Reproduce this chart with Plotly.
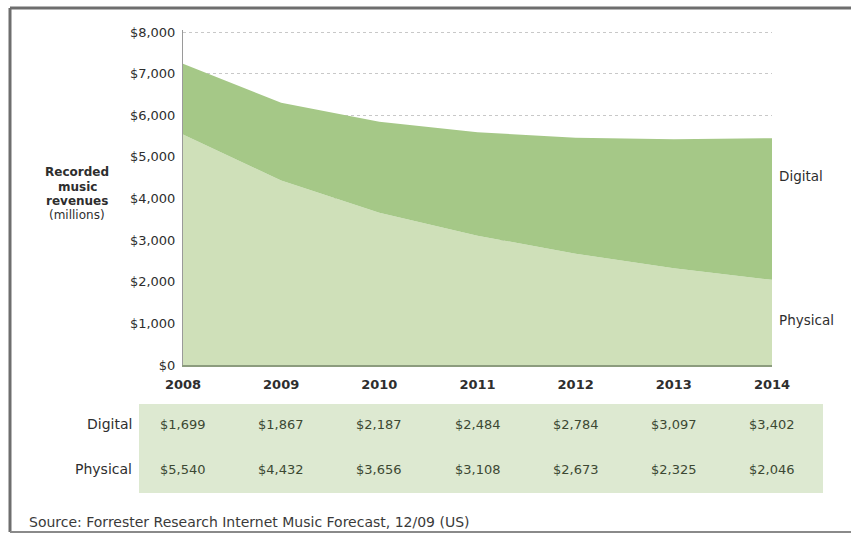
import plotly.graph_objects as go

# Forrester US recorded music revenue forecast, $ millions
years = [2008, 2009, 2010, 2011, 2012, 2013, 2014]
digital = [1699, 1867, 2187, 2484, 2784, 3097, 3402]
physical = [5540, 4432, 3656, 3108, 2673, 2325, 2046]
y_ticks = [0, 1000, 2000, 3000, 4000, 5000, 6000, 7000, 8000]
y_tick_labels = ["$0", "$1,000", "$2,000", "$3,000", "$4,000",
                 "$5,000", "$6,000", "$7,000", "$8,000"]
series_names = ["Digital", "Physical"]
axis_title_lines = ["<b>Recorded</b>", "<b>music</b>", "<b>revenues</b>", "(millions)"]
source_note = "Source: Forrester Research Internet Music Forecast, 12/09 (US)"

W, H = 851, 534
FONT = "DejaVu Sans"
TXT = "#2e2e2e"
PHYS_FILL = "#cfe0b9"
DIG_FILL = "#a5c887"
BAND = "#dde9d1"


def px(x):
    return x / W


def py(y):
    return 1 - y / H


def money(v):
    return "${:,}".format(v)


fig = go.Figure()

fig.add_trace(go.Scatter(
    x=years, y=physical, name=series_names[1], stackgroup="rev",
    mode="lines", line=dict(width=0, color=PHYS_FILL), fillcolor=PHYS_FILL,
    hoverinfo="skip",
))
fig.add_trace(go.Scatter(
    x=years, y=digital, name=series_names[0], stackgroup="rev",
    mode="lines", line=dict(width=0, color=DIG_FILL), fillcolor=DIG_FILL,
    hoverinfo="skip",
))

annotations = []

# series labels at the right edge of the stacked areas
annotations.append(dict(x=px(777), y=py(176), xref="paper", yref="paper",
                        text=series_names[0], showarrow=False,
                        xanchor="left", yanchor="middle",
                        font=dict(family=FONT, size=13.5, color=TXT)))
annotations.append(dict(x=px(777), y=py(320), xref="paper", yref="paper",
                        text=series_names[1], showarrow=False,
                        xanchor="left", yanchor="middle",
                        font=dict(family=FONT, size=13.5, color=TXT)))

# y-axis title, one line at a time for tight spacing
for i, line in enumerate(axis_title_lines):
    annotations.append(dict(
        x=px(77), y=py(172 + 14.5 * i), xref="paper", yref="paper",
        text=line, showarrow=False, xanchor="center", yanchor="middle",
        font=dict(family=FONT, size=12, color=TXT),
    ))

# data table beneath the chart
row_y = {series_names[0]: 424, series_names[1]: 469}
row_vals = {series_names[0]: digital, series_names[1]: physical}
for name in series_names:
    annotations.append(dict(x=px(134), y=py(row_y[name]), xref="paper", yref="paper",
                            text=name, showarrow=False,
                            xanchor="right", yanchor="middle",
                            font=dict(family=FONT, size=14, color=TXT)))
    for yr, v in zip(years, row_vals[name]):
        annotations.append(dict(x=yr, y=py(row_y[name]), xref="x", yref="paper",
                                text=money(v), showarrow=False,
                                xanchor="center", yanchor="middle",
                                font=dict(family=FONT, size=13, color="#3c4833")))

annotations.append(dict(x=px(27), y=py(522), xref="paper", yref="paper",
                        text=source_note, showarrow=False,
                        xanchor="left", yanchor="middle",
                        font=dict(family=FONT, size=14, color="#3a3a3a")))

shapes = [
    # table band
    dict(type="rect", xref="paper", yref="paper",
         x0=px(139), x1=px(823), y0=py(404), y1=py(493),
         fillcolor=BAND, line=dict(width=0), layer="below"),
    # outer frame (left, top, bottom)
    dict(type="line", xref="paper", yref="paper",
         x0=px(10), x1=px(10), y0=py(8), y1=py(532),
         line=dict(color="#6e6e6e", width=3)),
    dict(type="line", xref="paper", yref="paper",
         x0=px(10), x1=px(860), y0=py(8), y1=py(8),
         line=dict(color="#6e6e6e", width=3)),
    dict(type="line", xref="paper", yref="paper",
         x0=px(10), x1=px(860), y0=py(532), y1=py(532),
         line=dict(color="#8a8a8a", width=2)),
]

fig.update_layout(
    width=W, height=H,
    margin=dict(l=0, r=0, t=0, b=0, autoexpand=False),
    paper_bgcolor="white", plot_bgcolor="white",
    showlegend=False,
    annotations=annotations,
    shapes=shapes,
    xaxis=dict(
        domain=[px(183), px(772)], range=[2008, 2014],
        tickvals=years, ticktext=["<b>{}</b>".format(y) for y in years],
        tickfont=dict(family=FONT, size=13, color=TXT),
        showgrid=False, zeroline=False, automargin=False,
        showline=True, linecolor="#8c9c7e", linewidth=2,
        ticks="", ticklabelstandoff=6, fixedrange=True,
    ),
    yaxis=dict(
        domain=[py(365), py(29.5)], range=[0, 8060],
        tickvals=y_ticks, ticktext=y_tick_labels,
        tickfont=dict(family=FONT, size=13, color=TXT),
        showgrid=True, gridcolor="#c8c8c8", griddash="dot", gridwidth=1,
        zeroline=False, showline=True, linecolor="#9a9a9a", linewidth=1,
        automargin=False, ticks="", ticklabelstandoff=4, fixedrange=True,
    ),
)

fig.write_html("out.html")
